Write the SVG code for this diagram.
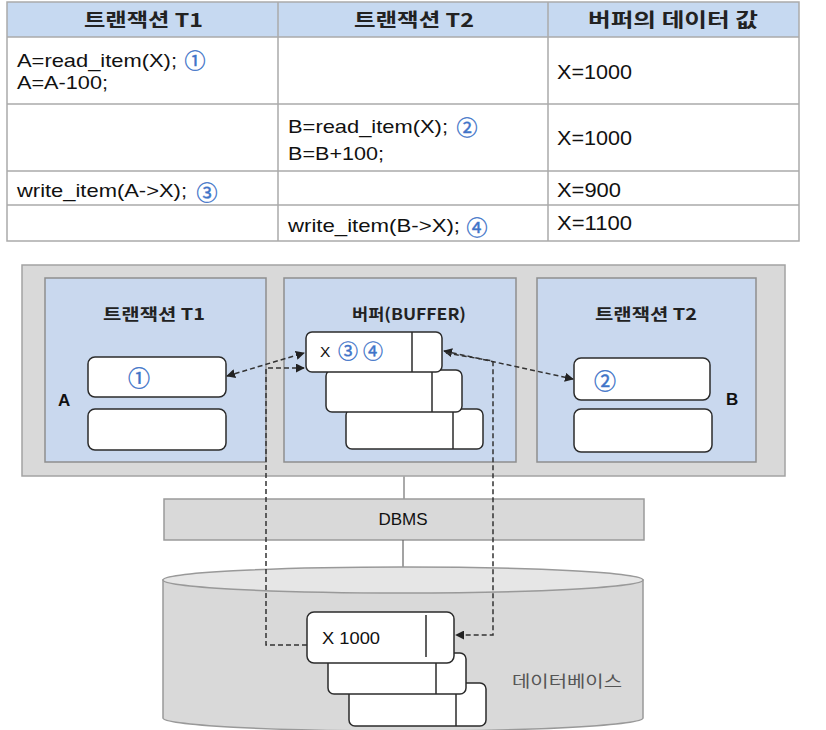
<svg xmlns="http://www.w3.org/2000/svg" width="826" height="730" viewBox="0 0 826 730">
<defs>
<style>
.t{font-family:"Liberation Sans","Noto Sans CJK KR",Arial,sans-serif;fill:#111}
.k{font-family:"Noto Sans CJK KR","Liberation Sans",sans-serif;font-weight:bold;fill:#222}
.c{font-family:"Noto Sans CJK KR","DejaVu Sans",sans-serif;fill:#3f74c8;stroke:#3f74c8;stroke-width:0.4;text-anchor:middle}
.grid{stroke:#aaaaaa;stroke-width:1.5;fill:none}
.panel{fill:#c9d8ee;stroke:#8e8e8e;stroke-width:1.5}
.box{fill:#fff;stroke:#2b2b2b;stroke-width:1.5}
.div{stroke:#2b2b2b;stroke-width:1.5}
.dash{fill:none;stroke:#333;stroke-width:1.5;stroke-dasharray:5 3}
</style>
<marker id="ah" viewBox="0 0 10 10" refX="9" refY="5" markerWidth="9" markerHeight="9" markerUnits="userSpaceOnUse" orient="auto-start-reverse">
<path d="M0,0 L10,5 L0,10 Z" fill="#222"/>
</marker>
</defs>
<rect width="826" height="730" fill="#fff"/>

<g id="table">
<rect x="7" y="2" width="792" height="35" fill="#c6d9f1"/>
<path class="grid" d="M7,2H799V241H7Z M7,37H799 M7,104H799 M7,171H799 M7,205H799 M278,2V241 M548,2V241"/>
<text class="k" x="84" y="27" font-size="19" textLength="119" lengthAdjust="spacingAndGlyphs">트랜잭션 T1</text>
<text class="k" x="354" y="27" font-size="19" textLength="120" lengthAdjust="spacingAndGlyphs">트랜잭션 T2</text>
<text class="k" x="588" y="27" font-size="19" textLength="170" lengthAdjust="spacingAndGlyphs">버퍼의 데이터 값</text>

<text class="t" x="17" y="67" font-size="19" textLength="160" lengthAdjust="spacingAndGlyphs">A=read_item(X);</text>
<text class="c" x="195" y="68" font-size="21">①</text>
<text class="t" x="17" y="89" font-size="19" textLength="91" lengthAdjust="spacingAndGlyphs">A=A-100;</text>
<text class="t" x="557" y="79" font-size="20" textLength="75" lengthAdjust="spacingAndGlyphs">X=1000</text>

<text class="t" x="288" y="133" font-size="19" textLength="160" lengthAdjust="spacingAndGlyphs">B=read_item(X);</text>
<text class="c" x="467" y="135" font-size="21">②</text>
<text class="t" x="288" y="160" font-size="19" textLength="96" lengthAdjust="spacingAndGlyphs">B=B+100;</text>
<text class="t" x="557" y="145" font-size="20" textLength="75" lengthAdjust="spacingAndGlyphs">X=1000</text>

<text class="t" x="17" y="197" font-size="19" textLength="170" lengthAdjust="spacingAndGlyphs">write_item(A-&gt;X);</text>
<text class="c" x="207" y="200" font-size="21">③</text>
<text class="t" x="557" y="197" font-size="20" textLength="64" lengthAdjust="spacingAndGlyphs">X=900</text>

<text class="t" x="288" y="232" font-size="19" textLength="172" lengthAdjust="spacingAndGlyphs">write_item(B-&gt;X);</text>
<text class="c" x="477" y="235" font-size="21">④</text>
<text class="t" x="557" y="230" font-size="20" textLength="75" lengthAdjust="spacingAndGlyphs">X=1100</text>
</g>

<g id="system">
<rect x="22" y="265" width="763" height="211" fill="#d9d9d9" stroke="#a3a3a3" stroke-width="1.5"/>
</g>

<g id="panel-t1">
<rect class="panel" x="45" y="278" width="221" height="184"/>
<text class="k" x="103" y="320" font-size="16" fill="#333" textLength="102" lengthAdjust="spacingAndGlyphs">트랜잭션 T1</text>
<rect class="box" x="88" y="357" width="138" height="40" rx="7"/>
<rect class="box" x="88" y="409" width="138" height="41" rx="7"/>
<text class="c" x="139" y="386" font-size="22" stroke-width="0.2">①</text>
<text class="t" x="58" y="406" font-size="17" font-weight="bold">A</text>
</g>

<g id="panel-buffer">
<rect class="panel" x="284" y="278" width="232" height="184"/>
<text class="k" x="352" y="320" font-size="16" textLength="114" lengthAdjust="spacingAndGlyphs">버퍼(BUFFER)</text>
<rect class="box" x="346" y="409" width="137" height="40" rx="6"/>
<line class="div" x1="453" y1="409" x2="453" y2="449"/>
<rect class="box" x="326" y="370" width="136" height="42" rx="6"/>
<line class="div" x1="432" y1="370" x2="432" y2="412"/>
<rect class="box" x="306" y="332" width="136" height="40" rx="6"/>
<line class="div" x1="412" y1="332" x2="412" y2="372"/>
<text class="t" x="320" y="357" font-size="15.5" fill="#222">X</text>
<text class="c" x="348" y="359" font-size="20">③</text>
<text class="c" x="373" y="359" font-size="20">④</text>
</g>

<g id="panel-t2">
<rect class="panel" x="537" y="278" width="219" height="184"/>
<text class="k" x="595" y="320" font-size="16" textLength="102" lengthAdjust="spacingAndGlyphs">트랜잭션 T2</text>
<rect class="box" x="574" y="358" width="136" height="42" rx="7"/>
<rect class="box" x="574" y="409" width="138" height="43" rx="7"/>
<text class="c" x="605" y="389" font-size="22" stroke-width="0.2">②</text>
<text class="t" x="726" y="405" font-size="17" font-weight="bold">B</text>
</g>

<g id="dbms">
<line x1="404" y1="476" x2="404" y2="499" stroke="#aaaaaa" stroke-width="2"/>
<rect x="164" y="499" width="480" height="41" fill="#d9d9d9" stroke="#9a9a9a" stroke-width="1.5"/>
<text class="t" x="403" y="525" font-size="17" fill="#333" text-anchor="middle">DBMS</text>
<line x1="403" y1="540" x2="403" y2="567" stroke="#666" stroke-width="1.2"/>
</g>

<g id="database">
<path d="M163,580 V718 A240,13 0 0 0 643,718 V580 Z" fill="#d9d9d9" stroke="#999" stroke-width="1.5"/>
<ellipse cx="403" cy="580" rx="240" ry="13" fill="#e6e6e6" stroke="#999" stroke-width="1.5"/>
<rect class="box" x="349" y="683" width="137" height="43" rx="6"/>
<line class="div" x1="456" y1="683" x2="456" y2="726"/>
<rect class="box" x="328" y="653" width="138" height="41" rx="6"/>
<line class="div" x1="436" y1="653" x2="436" y2="694"/>
<rect class="box" x="307" y="612" width="147" height="51" rx="7"/>
<line class="div" x1="426" y1="615" x2="426" y2="657"/>
<text class="t" x="322" y="644" font-size="17" fill="#222" textLength="58" lengthAdjust="spacingAndGlyphs">X 1000</text>
<text x="512" y="687" font-family="Noto Sans CJK KR, sans-serif" font-size="16" fill="#555" textLength="110" lengthAdjust="spacingAndGlyphs">데이터베이스</text>
</g>

<g id="connectors">
<line class="dash" x1="227" y1="376" x2="304" y2="353" marker-start="url(#ah)" marker-end="url(#ah)"/>
<path class="dash" d="M307,645 H266 V368 H304" marker-end="url(#ah)"/>
<line class="dash" x1="444" y1="351" x2="573" y2="379" marker-start="url(#ah)" marker-end="url(#ah)"/>
<path class="dash" d="M446,353 L493,361 V635 H456" marker-end="url(#ah)"/>
</g>
</svg>
